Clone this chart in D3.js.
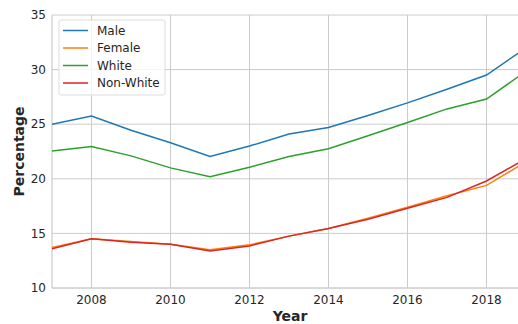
<!DOCTYPE html>
<html>
<head>
<meta charset="utf-8">
<script src="https://cdn.jsdelivr.net/npm/d3@7"></script>
<style>
  body { margin: 0; background: #fff; }
  svg { display: block; font-family: 'DejaVu Sans', sans-serif; }
</style>
</head>
<body>
<div id="chart"></div>
<script>
const years = [2007, 2008, 2009, 2010, 2011, 2012, 2013, 2014, 2015, 2016, 2017, 2018, 2019]
const male = [25.0, 25.75, 24.45, 23.3, 22.05, 23.0, 24.1, 24.7, 25.8, 26.95, 28.2, 29.5, 32.0]
const female = [13.7, 14.5, 14.25, 14.0, 13.5, 13.95, 14.75, 15.45, 16.4, 17.4, 18.45, 19.4, 21.55]
const white = [22.55, 22.95, 22.1, 21.0, 20.2, 21.05, 22.05, 22.75, 23.95, 25.15, 26.4, 27.3, 29.85]
const nonWhite = [13.6, 14.5, 14.2, 14.0, 13.4, 13.85, 14.75, 15.45, 16.3, 17.3, 18.3, 19.8, 21.85]
const xTicks = [2008, 2010, 2012, 2014, 2016, 2018]
const yTicks = [10, 15, 20, 25, 30, 35]

const series = [
  { name: 'Male', values: male, color: '#1f77b4' },
  { name: 'Female', values: female, color: '#ff7f0e' },
  { name: 'White', values: white, color: '#2ca02c' },
  { name: 'Non-White', values: nonWhite, color: '#d62728' }
]

const width = 518
const height = 324
const margin = { top: 15, left: 52 }
const innerH = 273

const svg = d3.select('#chart').append('svg')
  .attr('width', width)
  .attr('height', height)

const x = d3.scaleLinear().domain([2007, 2019]).range([margin.left, margin.left + 474])
const y = d3.scaleLinear().domain([10, 35]).range([margin.top + innerH, margin.top])

const grid = svg.append('g')
grid.selectAll('.hg')
  .data(yTicks)
  .join('line')
  .attr('x1', margin.left).attr('x2', width)
  .attr('y1', d => y(d)).attr('y2', d => y(d))
  .attr('stroke', '#cccccc').attr('stroke-width', 1)
grid.selectAll('.vg')
  .data(xTicks)
  .join('line')
  .attr('x1', d => x(d)).attr('x2', d => x(d))
  .attr('y1', y(10)).attr('y2', y(35))
  .attr('stroke', '#cccccc').attr('stroke-width', 1)

// left spine
svg.append('line')
  .attr('x1', margin.left).attr('x2', margin.left)
  .attr('y1', y(10)).attr('y2', y(35))
  .attr('stroke', '#cccccc').attr('stroke-width', 1.2)
svg.append('line')
  .attr('x1', margin.left).attr('x2', width)
  .attr('y1', y(10)).attr('y2', y(10))
  .attr('stroke', '#cccccc').attr('stroke-width', 1.2)

svg.append('g')
  .selectAll('text')
  .data(yTicks)
  .join('text')
  .attr('x', 46)
  .attr('y', d => y(d))
  .attr('dy', '0.35em')
  .attr('text-anchor', 'end')
  .attr('fill', '#262626')
  .style('font-size', '12px')
  .text(d => d)

svg.append('g')
  .selectAll('text')
  .data(xTicks)
  .join('text')
  .attr('x', d => x(d))
  .attr('y', 304)
  .attr('text-anchor', 'middle')
  .attr('fill', '#262626')
  .style('font-size', '12px')
  .text(d => d)

const clip = svg.append('clipPath').attr('id', 'plot')
  .append('rect')
  .attr('x', margin.left).attr('y', margin.top)
  .attr('width', width - margin.left).attr('height', innerH)

const line = d3.line()
  .x((d, i) => x(years[i]))
  .y(d => y(d))

svg.append('g')
  .attr('clip-path', 'url(#plot)')
  .selectAll('path')
  .data(series)
  .join('path')
  .attr('fill', 'none')
  .attr('stroke', d => d.color)
  .attr('stroke-width', 1.5)
  .attr('d', d => line(d.values))

svg.append('text')
  .attr('x', 290)
  .attr('y', 321)
  .attr('text-anchor', 'middle')
  .attr('fill', '#262626')
  .style('font-size', '14px')
  .style('font-weight', 'bold')
  .text('Year')

svg.append('text')
  .attr('transform', `translate(24, ${y(22.5)}) rotate(-90)`)
  .attr('text-anchor', 'middle')
  .attr('fill', '#262626')
  .style('font-size', '14px')
  .style('font-weight', 'bold')
  .text('Percentage')

const legend = svg.append('g').attr('transform', 'translate(59, 20)')
legend.append('rect')
  .attr('width', 106).attr('height', 75)
  .attr('rx', 2)
  .attr('fill', '#fff').attr('fill-opacity', 0.8)
  .attr('stroke', '#dddddd')

legend.selectAll('g')
  .data(series)
  .join('g')
  .attr('transform', (d, i) => `translate(0, ${10.5 + i * 17.5})`)
  .each(function (d) {
    const item = d3.select(this)
    item.append('line')
      .attr('x1', 4).attr('x2', 29)
      .attr('stroke', d.color).attr('stroke-width', 1.5)
    item.append('text')
      .attr('x', 38)
      .attr('dy', '0.35em')
      .attr('fill', '#262626')
      .style('font-size', '12px')
      .text(d.name)
  })
</script>
</body>
</html>
